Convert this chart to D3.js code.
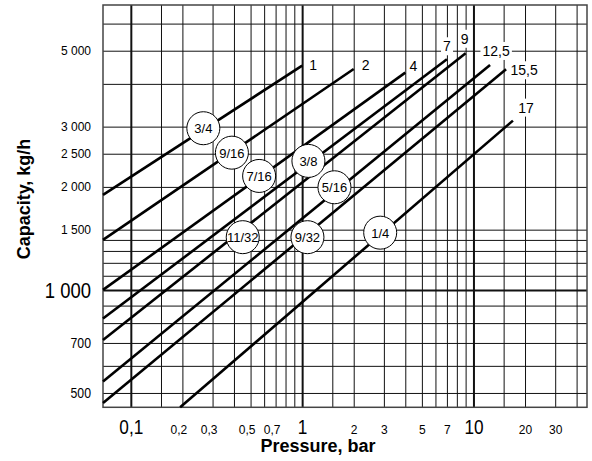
<!DOCTYPE html>
<html lang="en">
<head>
<meta charset="UTF-8">
<style>
  html, body { margin: 0; padding: 0; background: #fff; }
  svg { display: block; font-family: "Liberation Sans", Arial, Helvetica, sans-serif; }
  .grid line { stroke: #111; stroke-width: 1; }
  .grid .major line { stroke-width: 2; }
  .grid path { display: none; }
  .lbl path, .lbl line { display: none; }
  .lbl text { fill: #000; }
  .flow { fill: none; stroke: #000; stroke-width: 2.6; }
  .badge circle { fill: #fff; stroke: #000; stroke-width: 1; }
  .badge text { font-size: 13px; text-anchor: middle; dominant-baseline: central; }
  .end-label { font-size: 14px; text-anchor: middle; dominant-baseline: central; }
  .title { font-size: 18px; font-weight: bold; text-anchor: middle; }
</style>
<script src="https://d3js.org/d3.v7.min.js"></script>
</head>
<body>
<svg width="592" height="461"></svg>
<script>
// grid values
const pressureGrid = [0.1, 0.15, 0.2, 0.3, 0.4, 0.5, 0.6, 0.7, 0.8, 0.9,
                      1, 1.5, 2, 3, 4, 5, 6, 7, 8, 9, 10, 15, 20, 30, 40];
const capacityGrid = [500, 600, 700, 800, 900, 1000, 1100, 1200, 1300, 1400,
                      1500, 2000, 2500, 3000, 4000, 5000, 6000];
const pressureMajor = [0.1, 1, 10];
const capacityMajor = [1000];

// tick labels
const pressureTicks = [0.1, 0.2, 0.3, 0.5, 0.7, 1, 2, 3, 5, 7, 10, 20, 30];
const pressureTickText = ["0,1", "0,2", "0,3", "0,5", "0,7", "1", "2", "3", "5", "7", "10", "20", "30"];
const capacityTicks = [500, 700, 1000, 1500, 2000, 2500, 3000, 5000];
const capacityTickText = ["500", "700", "1 000", "1 500", "2 000", "2 500", "3 000", "5 000"];

// one line per nozzle size
const nozzleSizes = ["3/4", "9/16", "7/16", "3/8", "11/32", "5/16", "9/32", "1/4"];
const maxPressureText = ["1", "2", "4", "7", "9", "12,5", "15,5", "17"];
const startPressure = [0.0688, 0.0688, 0.0688, 0.0688, 0.0688, 0.0688, 0.0688, 0.194];
const startCapacity = [1895, 1400, 1000, 825, 714, 540, 467, 454];
const endPressure = [1, 2, 4, 7, 9, 12.5, 15.5, 17];
const endCapacity = [4522, 4422, 4313, 4720, 4914, 4543, 4413, 3124];
const badgePressure = [0.265, 0.389, 0.561, 1.088, 0.450, 1.544, 1.074, 2.855];
const badgeCapacity = [2968, 2518, 2153, 2382, 1426, 1995, 1426, 1470];

// where the max-pressure labels sit, relative to the line end (px)
const endLabelShift = [[11, -1], [12, -4], [8, -7], [0, -13], [-1, -14.5], [6, -14], [18, 1], [13, -13]];

const svg = d3.select("svg");
const plotL = 103, plotR = 587, plotT = 5, plotB = 407.3;

const x = d3.scaleLog().domain([0.0688, 46]).range([plotL, plotR]);
const y = d3.scaleLog().domain([454, 6800]).range([plotB, plotT]);

// vertical grid
const gx = svg.append("g").attr("class", "grid")
  .attr("transform", `translate(0,${plotB})`)
  .call(d3.axisBottom(x).tickValues(pressureGrid).tickSize(-(plotB - plotT)).tickFormat(""));
gx.selectAll(".tick").classed("major", d => pressureMajor.includes(d));

// horizontal grid
const gy = svg.append("g").attr("class", "grid")
  .attr("transform", `translate(${plotL},0)`)
  .call(d3.axisLeft(y).tickValues(capacityGrid).tickSize(-(plotR - plotL)).tickFormat(""));
gy.selectAll(".tick").classed("major", d => capacityMajor.includes(d));

// frame
svg.append("rect")
  .attr("x", plotL).attr("y", plotT)
  .attr("width", plotR - plotL).attr("height", plotB - plotT)
  .attr("fill", "none").attr("stroke", "#444").attr("stroke-width", 1.5);

// x labels
const xl = svg.append("g").attr("class", "lbl")
  .attr("transform", `translate(0,${plotB})`)
  .call(d3.axisBottom(x).tickValues(pressureTicks).tickSize(0)
    .tickFormat((d, i) => pressureTickText[i]));
xl.selectAll("text")
  .attr("y", 27).attr("dy", null)
  .each(function(d) {
    const t = d3.select(this);
    if (pressureMajor.includes(d)) {
      t.attr("font-size", 21).attr("transform", "scale(0.82,1)");
    } else {
      t.attr("font-size", 12);
      if (d < 1) t.attr("x", -4);
    }
  });

// y labels
const yl = svg.append("g").attr("class", "lbl")
  .attr("transform", "translate(91,0)")
  .call(d3.axisLeft(y).tickValues(capacityTicks).tickSize(0)
    .tickFormat((d, i) => capacityTickText[i]));
yl.selectAll("text")
  .attr("x", 0).attr("dy", null)
  .attr("dominant-baseline", "central")
  .each(function(d) {
    const t = d3.select(this);
    if (d === 1000) t.attr("font-size", 22).attr("transform", "scale(0.84,1)");
    else if (d < 1000) t.attr("font-size", 15).attr("transform", "scale(0.82,1)");
    else t.attr("font-size", 12);
  });

// nozzle lines
const line = d3.line().x(d => x(d[0])).y(d => y(d[1]));
svg.append("g").selectAll("path")
  .data(nozzleSizes)
  .join("path")
  .attr("class", "flow")
  .attr("d", (d, i) => line([[startPressure[i], startCapacity[i]], [endPressure[i], endCapacity[i]]]));

// max pressure labels with white backing
const ends = svg.append("g").selectAll("g")
  .data(maxPressureText)
  .join("g")
  .attr("transform", (d, i) =>
    `translate(${x(endPressure[i]) + endLabelShift[i][0]},${y(endCapacity[i]) + endLabelShift[i][1]})`);
ends.append("text").attr("class", "end-label").text(d => d);
ends.each(function() {
  const g = d3.select(this);
  const b = g.select("text").node().getBBox();
  g.insert("rect", "text")
    .attr("x", b.x - 2).attr("y", b.y - 1)
    .attr("width", b.width + 4).attr("height", b.height + 2)
    .attr("fill", "#fff");
});

// size badges
const badges = svg.append("g").selectAll("g")
  .data(nozzleSizes)
  .join("g")
  .attr("class", "badge")
  .attr("transform", (d, i) => `translate(${x(badgePressure[i])},${y(badgeCapacity[i])})`);
badges.append("circle").attr("r", 16.5);
badges.append("text").attr("y", 0.5).text(d => d);

// axis titles
svg.append("text").attr("class", "title")
  .attr("x", 318).attr("y", 452)
  .text("Pressure, bar");
svg.append("text").attr("class", "title")
  .attr("transform", "translate(30,199) rotate(-90)")
  .text("Capacity, kg/h");
</script>
</body>
</html>
